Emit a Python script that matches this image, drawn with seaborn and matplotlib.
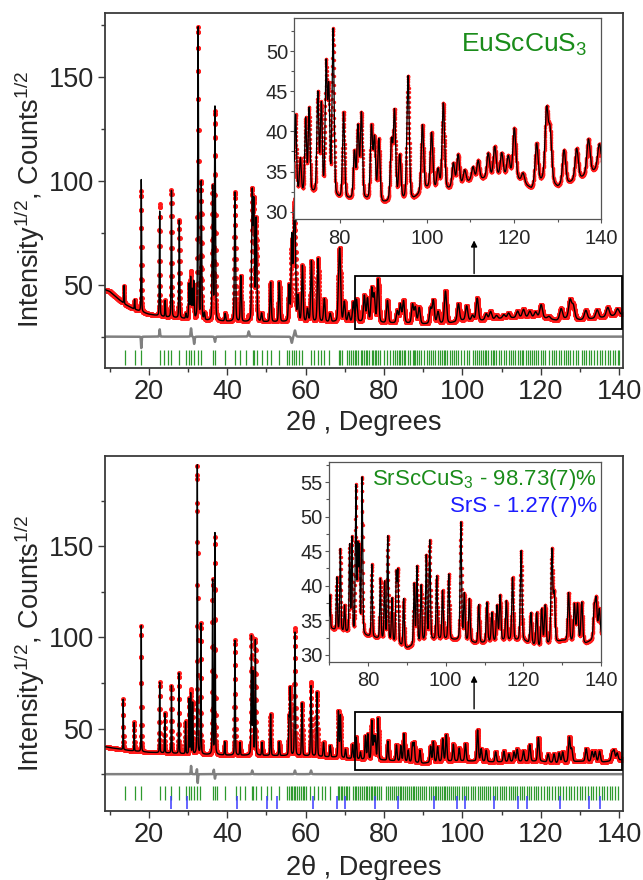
import numpy as np
import pandas as pd
import matplotlib
matplotlib.use("Agg")
import matplotlib.pyplot as plt
import matplotlib.patches as mpatches
from matplotlib.ticker import MultipleLocator
import seaborn as sns

sns.set_style("white")
plt.rcParams['font.family'] = ['Liberation Sans', 'DejaVu Sans']
plt.rcParams['mathtext.default'] = 'regular'

# ---------------- data ----------------
# EuScCuS3 (top): background knots (2theta, sqrt counts)
bg_top_x = [9, 10, 12, 14, 16, 18, 20, 24, 28, 35, 45, 60, 70, 75, 80, 86, 90, 97, 100, 104, 110, 116, 120, 124, 127, 130, 135, 141]
bg_top_y = [47.5, 46.8, 43.5, 40.5, 38.5, 37.0, 35.8, 34.5, 33.8, 32.6, 32.0, 32.0, 32.0, 32.2, 31.5, 31.4, 31.0, 31.5, 32.8, 32.5, 33.8, 34.3, 34.3, 32.8, 34.0, 33.0, 34.0, 35.8]
# peak positions and apex heights (calculated profile)
pk_top_pos = [13.7, 16.4, 18.1, 22.8, 24.2, 25.8, 27.8, 29.5, 30.3, 30.7, 31.1, 31.5, 32.6, 33.4, 34.2,
              36.3, 36.9, 39.5, 42.0, 43.5, 46.4, 46.8, 47.4, 48.8, 51.1, 53.3, 55.8, 56.5, 57.0, 57.3,
              58.1, 59.2, 60.5, 61.5, 63.2, 64.8, 66.3, 68.5, 68.8, 69.9, 71.0,
              72.2, 73.0, 75.0, 75.8, 76.9, 77.5, 78.5, 80.9, 83.4, 84.2, 85.0, 87.3, 88.0, 89.0,
              91.9, 92.6, 93.8, 95.7, 99.0, 101.1, 102.6, 103.8, 106.1, 107.2, 108.7, 110.6, 111.8,
              114.1, 115.6, 117.2, 118.7, 120.1, 122.1, 125.2, 127.5, 128.3, 131.5, 134.4, 137.1, 139.6]
pk_top_h = [49.5, 42.8, 100.5, 85.3, 42.3, 95.2, 80.9, 36.0, 50.0, 53.0, 47.0, 51.0, 173.4, 98.9, 36.0,
            96.5, 135.0, 36.0, 94.4, 54.0, 93.0, 88.0, 81.0, 36.0, 51.0, 51.0, 49.0, 72.4, 66.0, 77.2,
            44.0, 58.8, 38.0, 61.2, 62.3, 43.0, 36.0, 52.0, 58.8, 41.5, 36.3,
            41.3, 42.6, 44.5, 43.0, 47.8, 44.7, 52.4, 42.2, 37.2, 40.3, 42.0, 40.3, 38.8, 38.8,
            38.4, 42.2, 36.8, 46.8, 40.7, 39.7, 35.1, 43.4, 35.9, 37.0, 35.1, 35.5, 36.3,
            37.2, 38.0, 37.2, 36.8, 40.3, 34.7, 38.4, 42.4, 39.7, 37.6, 37.8, 39.0, 38.4]
# observed minus calculated at selected peaks
dev_top_pos = [18.1, 22.8, 30.8, 31.6, 36.9, 45.5, 56.5, 57.3]
dev_top_val = [-5.5, 3.5, 4.0, -3.5, -2.5, 2.5, -3.0, 3.0]
# EuScCuS3 reflection positions
refl_top = [13.9, 16.6, 18.1, 22.8, 23.9, 25.0, 25.8, 27.8, 29.4, 30.3, 30.8, 31.6, 32.6, 33.4, 36.4, 36.9,
            39.5, 42.1, 43.4, 44.7, 46.5, 46.9, 47.5, 48.9, 50.2, 51.1, 53.3, 55.2, 55.9, 56.5, 57.1, 57.6,
            58.4, 59.2, 61.4, 62.2, 63.1, 63.9, 64.8, 66.0,
            68.5, 68.9, 69.3, 70.5, 71.0, 71.7, 72.2, 72.6, 73.0, 73.5, 74.1, 74.5, 75.0, 75.4, 75.8, 76.3,
            76.9, 77.3, 77.6, 78.1, 78.5, 79.0, 80.1, 80.9, 81.6, 82.3, 82.8, 83.4, 83.8, 84.2, 84.6, 85.0,
            85.5, 86.1, 86.6, 87.3, 87.7, 88.0, 88.5, 89.0, 89.5, 90.2, 91.0, 91.4, 91.9, 92.6, 93.0, 93.8,
            94.3, 94.9, 95.3, 95.7, 96.2, 96.8, 97.3, 98.0, 98.5, 99.0, 99.6, 100.4, 101.1, 101.6, 102.6,
            103.2, 103.8, 104.3, 104.8, 105.3, 105.8, 106.1, 106.6, 107.2, 107.7, 108.2, 108.7, 109.3,
            109.9, 110.6, 111.1, 111.8, 112.4, 113.0, 113.5, 114.1, 114.6, 115.1, 115.6, 116.2, 116.7,
            117.2, 117.8, 118.2, 118.7, 119.3, 120.1, 120.6, 121.2, 122.1, 122.8, 123.4, 124.0, 124.6,
            125.2, 125.9, 126.5, 127.0, 127.5, 128.3, 128.9, 129.5, 130.4, 131.0, 131.5, 132.2, 132.8,
            133.5, 134.4, 135.0, 135.7, 136.4, 137.1, 137.7, 138.4, 139.0, 139.6, 140.0]

# SrScCuS3 + SrS (bottom)
bg_bot_x = [9, 10, 15, 20, 25, 30, 40, 60, 68, 72, 76, 80, 85, 90, 95, 100, 105, 108, 115, 120, 124, 130, 136, 141]
bg_bot_y = [40.0, 39.6, 38.0, 37.0, 36.6, 36.0, 35.4, 35.0, 34.2, 33.4, 33.0, 32.6, 32.0, 30.9, 32.0, 32.2, 32.0, 31.6, 32.0, 32.0, 31.0, 32.0, 31.6, 33.0]
pk_bot_pos = [13.5, 16.3, 18.1, 22.8, 24.1, 25.8, 27.7, 29.4, 30.3, 30.7, 31.2, 32.4, 33.3, 36.3, 36.9,
              39.4, 42.0, 43.3, 46.2, 46.6, 47.2, 48.9, 51.1, 53.3, 55.8, 56.1, 57.3, 59.1, 61.4, 62.9,
              64.6, 66.3, 68.4, 68.9, 70.2,
              72.0, 72.9, 74.0, 75.3, 75.9, 76.9, 77.4, 77.8, 78.5, 81.0, 83.2, 84.3, 85.1, 86.2, 87.3,
              87.7, 89.2, 91.9, 92.6, 93.7, 95.0, 95.9, 97.7, 99.2, 100.8, 103.9, 104.8, 106.1, 108.5,
              110.6, 111.9, 113.2, 114.0, 115.6, 117.2, 119.4, 121.9, 123.4, 124.7, 125.6, 127.3, 127.9,
              131.6, 133.1, 133.9, 135.0, 138.2, 138.7, 139.5]
pk_bot_h = [66.1, 53.3, 106.4, 75.3, 58.4, 73.4, 80.4, 53.7, 66.0, 69.0, 64.0, 194.3, 107.3, 131.1, 156.8,
            42.7, 98.2, 42.3, 100.0, 80.0, 98.2, 42.3, 57.9, 42.7, 55.0, 71.6, 102.7, 63.9, 73.4, 69.8,
            42.3, 40.5, 59.2, 57.0, 38.5,
            41.1, 45.2, 37.0, 45.7, 46.7, 54.0, 45.0, 44.9, 55.4, 43.0, 40.9, 40.4, 47.0, 38.0, 41.3,
            41.6, 38.0, 40.1, 42.6, 39.9, 44.2, 46.4, 41.3, 39.2, 41.6, 49.1, 38.7, 38.0, 37.2,
            37.5, 36.0, 37.0, 38.5, 37.7, 41.1, 45.0, 36.0, 36.0, 36.5, 37.0, 45.0, 38.5,
            38.9, 37.2, 37.2, 37.5, 36.5, 37.7, 36.5]
dev_bot_pos = [30.8, 32.3, 32.5, 36.6, 36.9, 46.4, 57.3, 61.4]
dev_bot_val = [4.5, 3.0, -5.0, 2.5, -2.5, 2.0, 2.0, 2.0]
refl_bot_main = [13.9, 16.5, 18.1, 22.9, 24.2, 25.8, 27.8, 29.4, 30.4, 30.9, 31.6, 32.4, 33.1, 36.4, 36.8,
                 37.4, 39.5, 42.2, 43.3, 44.5, 46.3, 46.6, 47.3, 48.6, 50.2, 51.2, 53.3, 55.4, 55.8, 56.2,
                 56.6, 57.0, 57.4, 57.8, 58.3, 58.8, 59.3, 59.7, 60.2, 61.2, 62.2, 63.1, 64.1, 64.9, 66.3,
                 68.2, 68.6, 69.0, 69.4, 69.9, 70.3, 70.7, 71.2, 72.1, 72.5, 72.9, 73.4, 73.9, 74.3, 74.8,
                 75.3, 75.7, 76.1, 76.6, 77.0, 77.4, 77.8, 78.3, 78.7, 79.2, 80.6, 81.1, 81.6, 82.1, 82.6,
                 83.1, 83.5, 84.0, 84.4, 84.9, 85.3, 85.8, 86.3, 86.8, 87.3, 87.7, 88.2, 88.7, 89.2, 89.7,
                 90.2, 90.8, 91.4, 91.9, 92.4, 92.9, 93.4, 93.8, 94.3, 94.8, 95.2, 95.7, 96.2, 96.7, 97.2,
                 97.7, 98.2, 98.7, 99.2, 99.8, 100.4, 101.0, 101.5, 102.1, 102.7, 103.3, 103.9, 104.4, 104.9,
                 105.4, 106.0, 106.5, 107.1, 107.7, 108.3, 108.9, 109.5, 110.1, 110.6, 111.2, 111.8, 112.4,
                 112.9, 113.5, 114.0, 114.6, 115.2, 115.8, 116.4, 117.0, 117.6, 118.2, 118.8, 119.4, 120.1,
                 120.8, 121.5, 122.2, 122.9, 123.6, 124.3, 125.0, 125.7, 126.4, 127.1, 127.8, 128.5, 129.2,
                 129.9, 130.6, 131.3, 132.0, 132.7, 133.4, 134.1, 134.8, 135.5, 136.2, 136.9, 137.6, 138.3,
                 139.0, 139.7]
refl_bot_srs = [25.6, 29.7, 42.5, 50.3, 52.7, 61.8, 68.0, 70.1, 77.7, 83.5, 92.8, 98.6, 100.7, 108.2,
                114.3, 116.4, 125.0, 132.4, 135.0]

label_top = 'EuScCuS$_3$'
label_bot_1 = 'SrScCuS$_3$ - 98.73(7)%'
label_bot_2 = 'SrS - 1.27(7)%'

# ---------------- build profiles ----------------
tt = np.arange(9.0, 141.0, 0.02)


def peak_sum(x, pos, amp, w0, w1):
    y = np.zeros_like(x)
    for p, a in zip(pos, amp):
        w = w0 + w1 * (p - 10.0)
        d = (x - p) / w
        y += a * (0.25 / (1 + 4 * d * d) + 0.75 * np.exp(-2.7726 * d * d))
    return y


def make_df(bgx, bgy, pos, h, dpos, dval, w0, w1):
    bg = np.interp(tt, bgx, bgy)
    amp = np.array(h) - np.interp(pos, bgx, bgy)
    calc = bg + peak_sum(tt, pos, amp, w0, w1)
    dev = peak_sum(tt, dpos, dval, w0, w1)
    obs = calc + dev
    return pd.DataFrame({'tt': tt, 'obs': obs, 'calc': calc, 'diff': dev + 25.0})


df_top = make_df(bg_top_x, bg_top_y, pk_top_pos, pk_top_h, dev_top_pos, dev_top_val, 0.12, 0.006)
df_bot = make_df(bg_bot_x, bg_bot_y, pk_bot_pos, pk_bot_h, dev_bot_pos, dev_bot_val, 0.10, 0.0035)

# ---------------- figure ----------------
fig = plt.figure(figsize=(6.43, 8.80), dpi=100)
fig.patch.set_facecolor('white')

FS = 19.5
FS_IN = 14.5
FRAME = '#3a3a3a'
GREEN = '#2e9a2e'
BLUE = '#3a3aff'


def style_main(ax, ylim):
    ax.set_xlim(8.85, 141.0)
    ax.set_ylim(*ylim)
    ax.xaxis.set_major_locator(MultipleLocator(20))
    ax.xaxis.set_minor_locator(MultipleLocator(10))
    ax.yaxis.set_major_locator(MultipleLocator(50))
    ax.yaxis.set_minor_locator(MultipleLocator(25))
    ax.tick_params(which='both', direction='out', bottom=True, left=True, top=False, right=False,
                   color=FRAME, width=1.0)
    ax.tick_params(which='major', length=5, labelsize=FS, pad=3)
    ax.tick_params(which='minor', length=3)
    for s in ax.spines.values():
        s.set_color(FRAME)
        s.set_linewidth(1.3)
    ax.set_ylabel('Intensity$^{1/2}$, Counts$^{1/2}$', fontsize=FS)
    ax.set_xlabel('2θ , Degrees', fontsize=FS)


def style_inset(ax, xlim, ylim):
    ax.set_facecolor('white')
    ax.set_xlim(*xlim)
    ax.set_ylim(*ylim)
    ax.xaxis.set_major_locator(MultipleLocator(20))
    ax.xaxis.set_minor_locator(MultipleLocator(10))
    ax.yaxis.set_major_locator(MultipleLocator(5))
    ax.yaxis.set_minor_locator(MultipleLocator(2.5))
    ax.tick_params(which='both', direction='out', bottom=True, left=True, top=False, right=False,
                   color='#555555', width=0.8)
    ax.tick_params(which='major', length=3, labelsize=FS_IN)
    ax.tick_params(which='minor', length=2)
    ax.tick_params(axis='y', pad=1.5)
    ax.tick_params(axis='x', pad=4)
    for s in ax.spines.values():
        s.set_color('#555555')
        s.set_linewidth(0.9)
    ax.set_xlabel('')
    ax.set_ylabel('')


def draw_pattern(ax, df, s, lw, diff=True):
    sns.scatterplot(data=df, x='tt', y='obs', ax=ax, color='#ff1a1a', s=s, linewidth=0,
                    legend=False, zorder=2)
    sns.lineplot(data=df, x='tt', y='calc', ax=ax, color='black', lw=lw, estimator=None,
                 errorbar=None, sort=False, zorder=3)
    if diff:
        sns.lineplot(data=df, x='tt', y='diff', ax=ax, color='#808080', lw=1.8, estimator=None,
                     errorbar=None, sort=False, zorder=2)


# ---- top panel ----
ax1 = fig.add_axes([0.1633, 0.582, 0.8057, 0.403])
draw_pattern(ax1, df_top, 13, 1.0)
ax1.vlines(refl_top, 15 - 3.4, 15 + 3.4, color=GREEN, lw=0.9)
style_main(ax1, (10, 180.5))
ax1.yaxis.set_label_coords(-0.112, 0.476)
ax1.xaxis.set_label_coords(0.5, -0.118)
ax1.add_patch(mpatches.Rectangle((72.7, 28.8), 140.7 - 72.7, 54.0 - 28.8, fill=False,
                                 ec='black', lw=1.3, zorder=5))
ax1.annotate('', xy=(103, 72.6), xytext=(103, 54.0),
             arrowprops=dict(arrowstyle='-|>', color='black', lw=1.0, mutation_scale=9), zorder=5)

ins1 = fig.add_axes([0.4577, 0.7512, 0.4771, 0.2278])
draw_pattern(ins1, df_top[df_top.tt >= 69.0], 6, 0.9, diff=False)
style_inset(ins1, (69.6, 140), (29.1, 54.05))
fig.text(0.913, 0.941, label_top, color='#1a8c1a', fontsize=19, ha='right', va='baseline')

# ---- bottom panel ----
ax2 = fig.add_axes([0.1633, 0.0788, 0.8057, 0.4032])
draw_pattern(ax2, df_bot, 13, 1.0)
ax2.vlines(refl_bot_main, 14.7 - 3.6, 14.7 + 3.6, color=GREEN, lw=0.9)
ax2.vlines(refl_bot_srs, 9.7 - 3.6, 9.7 + 3.6, color=BLUE, lw=1.1)
style_main(ax2, (5, 199.5))
ax2.yaxis.set_label_coords(-0.112, 0.472)
ax2.xaxis.set_label_coords(0.5, -0.125)
ax2.add_patch(mpatches.Rectangle((72.7, 27.3), 140.7 - 72.7, 59.3 - 27.3, fill=False,
                                 ec='black', lw=1.3, zorder=5))
ax2.annotate('', xy=(103, 80.6), xytext=(103, 59.3),
             arrowprops=dict(arrowstyle='-|>', color='black', lw=1.0, mutation_scale=9), zorder=5)

ins2 = fig.add_axes([0.5117, 0.248, 0.4233, 0.227])
draw_pattern(ins2, df_bot[df_bot.tt >= 69.5], 6, 0.9, diff=False)
style_inset(ins2, (70, 140), (29.0, 57.9))
fig.text(0.928, 0.449, label_bot_1, color='#1a8c1a', fontsize=16, ha='right', va='baseline')
fig.text(0.928, 0.4185, label_bot_2, color='#1c1cff', fontsize=16, ha='right', va='baseline')

fig.savefig('out.png', dpi=100)
